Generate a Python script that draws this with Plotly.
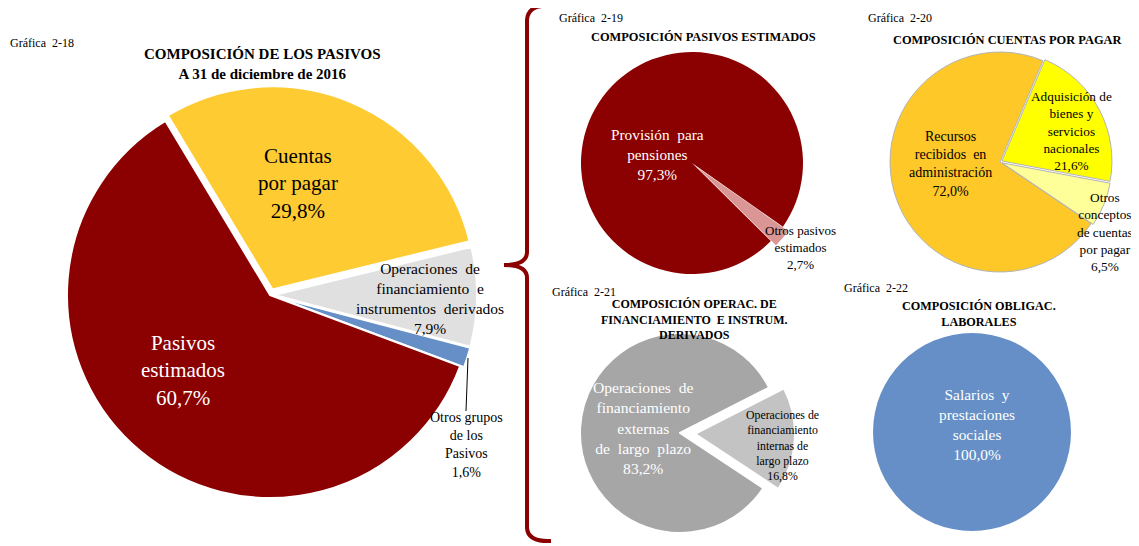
import plotly.graph_objects as go

W, H = 1139, 546
OX, OY = 8, 8          # default page body margin in the written html
FONT = "Liberation Serif"

# ---------------- DATA ----------------
# Gráfica 2-18
main_labels = ["Cuentas<br>por pagar", "Operaciones  de<br>financiamiento  e<br>instrumentos  derivados",
               "Otros grupos<br>de los<br>Pasivos", "Pasivos<br>estimados"]
main_values = [29.8, 7.9, 1.6, 60.7]
main_colors = ["#FECB33", "#E0E0E0", "#658FC6", "#8B0000"]

# Gráfica 2-19
est_labels = ["Otros pasivos<br>estimados", "Provisión  para<br>pensiones"]
est_values = [2.7, 97.3]
est_colors = ["#D99694", "#8B0000"]

# Gráfica 2-20
cxp_labels = ["Adquisición de<br>bienes y<br>servicios<br>nacionales",
              "Otros<br>conceptos<br>de cuentas<br>por pagar",
              "Recursos<br>recibidos  en<br>administración"]
cxp_values = [21.6, 6.5, 72.0]
cxp_colors = ["#FFFF00", "#FFFF99", "#FDC828"]

# Gráfica 2-21
fin_labels = ["Operaciones de<br>financiamiento<br>internas de<br>largo plazo",
              "Operaciones  de<br>financiamiento<br>externas<br>de  largo  plazo"]
fin_values = [16.8, 83.2]
fin_colors = ["#C3C3C3", "#A6A6A6"]

# Gráfica 2-22
lab_labels = ["Salarios  y<br>prestaciones<br>sociales"]
lab_values = [100.0]
lab_colors = ["#658FC6"]


def pct(v):
    return f"{v:.1f}".replace(".", ",") + "%"


def domain(cx, cy, r, maxpull):
    cx -= OX
    cy -= OY
    half = r * (1 + maxpull)
    return dict(x=[max(0, (cx - half) / W), min(1, (cx + half) / W)],
                y=[max(0, 1 - (cy + half) / H), min(1, 1 - (cy - half) / H)])


fig = go.Figure()


def add_pie(labels, values, colors, cx, cy, r, pulls, rotation, line_color="white", line_width=1.5):
    fig.add_trace(go.Pie(
        labels=labels, values=values, sort=False, direction="clockwise",
        rotation=rotation, pull=pulls, textinfo="none", hoverinfo="label+percent",
        marker=dict(colors=colors, line=dict(color=line_color, width=line_width)),
        domain=domain(cx, cy, r, max(pulls)), showlegend=False,
    ))


add_pie(main_labels, main_values, main_colors, 270, 295, 203, [0.03, 0.02, 0.02, 0], -31, "white", 2)
add_pie(est_labels, est_values, est_colors, 692, 163, 111, [0.06, 0], 125, "#8B0000", 0)
add_pie(cxp_labels, cxp_values, cxp_colors, 1000, 162, 110, [0.02, 0.02, 0], 23, "#B4B4B4", 1)
add_pie(fin_labels, fin_values, fin_colors, 680, 433, 100, [0.15, 0], 63, "white", 2)
add_pie(lab_labels, lab_values, lab_colors, 972, 432, 99, [0], 0, "#658FC6", 0)

# pixel-space hidden axes (page coordinates) for annotations and shapes
fig.add_trace(go.Scatter(x=[OX, W], y=[OY, H], mode="markers", marker=dict(opacity=0),
                         hoverinfo="skip", showlegend=False))
fig.update_xaxes(range=[OX, W + OX], visible=False, fixedrange=True)
fig.update_yaxes(range=[H + OY, OY], visible=False, fixedrange=True)

anns = []


def txt(x, y, text, size, color="black", bold=False, xanchor="center"):
    if bold:
        text = "<b>" + text + "</b>"
    anns.append(dict(x=x, y=y, xref="x", yref="y", text=text, showarrow=False,
                     xanchor=xanchor, yanchor="middle", align="center",
                     font=dict(family=FONT, size=size, color=color)))


# chart numbers
txt(8, 43, "Gráfica  2-18", 12, xanchor="left")
txt(557, 18, "Gráfica  2-19", 12, xanchor="left")
txt(866, 18, "Gráfica  2-20", 12, xanchor="left")
txt(550, 292, "Gráfica  2-21", 12, xanchor="left")
txt(842, 288, "Gráfica  2-22", 12, xanchor="left")

# titles
txt(262, 64, "COMPOSICIÓN DE LOS PASIVOS<br>A 31 de diciembre de 2016", 15, bold=True)
txt(703, 37, "COMPOSICIÓN PASIVOS ESTIMADOS", 12.4, bold=True)
txt(1007, 40, "COMPOSICIÓN CUENTAS POR PAGAR", 12.4, bold=True)
txt(694, 319, "COMPOSICIÓN OPERAC. DE<br>FINANCIAMIENTO  E INSTRUM.<br>DERIVADOS", 12, bold=True)
txt(979, 314, "COMPOSICIÓN OBLIGAC.<br>LABORALES", 12.2, bold=True)

# slice labels (text from data)
main_pos = [(298, 183, 21, "black"), (430, 298, 15.5, "black"), (466, 445, 14, "black"), (183, 370, 21, "white")]
for lab, v, (x, y, s, c) in zip(main_labels, main_values, main_pos):
    txt(x, y, lab + "<br>" + pct(v), s, c)

est_pos = [(800, 247, 13, "black"), (657, 154, 15.3, "white")]
for lab, v, (x, y, s, c) in zip(est_labels, est_values, est_pos):
    txt(x, y, lab + "<br>" + pct(v), s, c)

cxp_pos = [(1071, 131, 13.3, "black"), (1105, 232, 13.3, "black"), (950, 164, 14, "black")]
for lab, v, (x, y, s, c) in zip(cxp_labels, cxp_values, cxp_pos):
    txt(x, y, lab + "<br>" + pct(v), s, c)

fin_pos = [(782, 445, 11.8, "black"), (643, 428, 15.6, "white")]
for lab, v, (x, y, s, c) in zip(fin_labels, fin_values, fin_pos):
    txt(x, y, lab + "<br>" + pct(v), s, c)

lab_pos = [(977, 424, 15.4, "white")]
for lab, v, (x, y, s, c) in zip(lab_labels, lab_values, lab_pos):
    txt(x, y, lab + "<br>" + pct(v), s, c)

shapes = [
    # leader line for "Otros grupos de los Pasivos"
    dict(type="line", xref="x", yref="y", x0=466, y0=411, x1=468, y1=358,
         line=dict(color="black", width=1)),
    # curly bracket
    dict(type="path", xref="x", yref="y",
         path="M 551,6 Q 528,4 527,20 L 527,252 Q 527,265 504,265 Q 527,265 527,278 "
              "L 527,528 Q 528,542 551,541",
         line=dict(color="#8B0000", width=4)),
]

fig.update_layout(
    width=W, height=H, margin=dict(l=0, r=0, t=0, b=0),
    paper_bgcolor="white", plot_bgcolor="rgba(0,0,0,0)",
    annotations=anns, shapes=shapes,
)

fig.write_html("out.html")
